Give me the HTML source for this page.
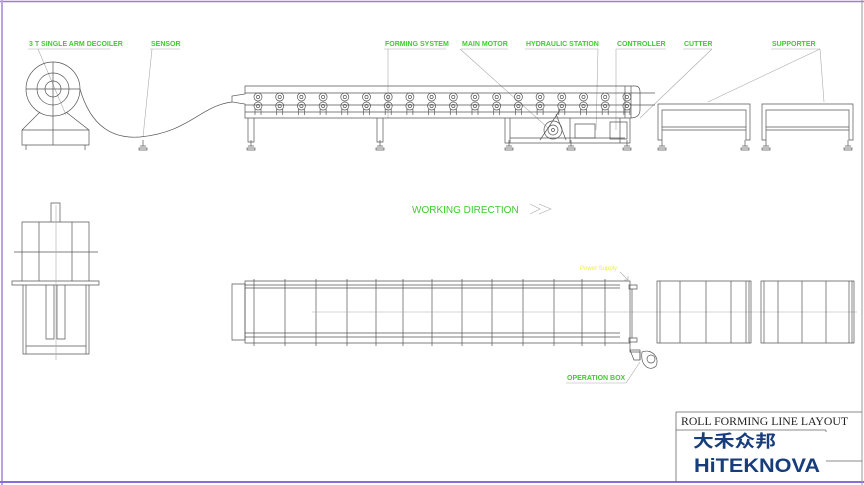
<!DOCTYPE html>
<html><head><meta charset="utf-8"><style>
html,body{margin:0;padding:0;background:#fff;}
svg{display:block;}
.l{stroke:#555;stroke-width:0.7;fill:none;}
.g{stroke:#aaa;stroke-width:0.6;fill:none;}
.t{font-family:"Liberation Sans",sans-serif;font-size:7px;fill:#3ecc2e;font-weight:bold;}
</style></head><body>
<svg width="864" height="485" viewBox="0 0 864 485" xmlns="http://www.w3.org/2000/svg">
<defs>
<g id="r"><circle cx="0" cy="0" r="4" class="l"/><circle cx="0" cy="0" r="1.6" class="l"/><circle cx="0" cy="9" r="4" class="l"/><circle cx="0" cy="9" r="1.6" class="l"/><path class="l" d="M-3,12V18M3,12V18"/></g>
<g id="f"><path class="l" d="M-3,0H3M0,0V-6M-4,2H4V4H-4Z"/></g>
</defs>
<rect x="0" y="0" width="864" height="485" fill="#fff"/>
<line x1="0" y1="1.5" x2="864" y2="1.5" stroke="#9a7be0" stroke-width="1.5"/>
<line x1="2" y1="0" x2="2" y2="485" stroke="#b9a3e3" stroke-width="2"/>
<line x1="0" y1="482" x2="864" y2="482" stroke="#8a6ddc" stroke-width="2"/>
<line x1="862" y1="0" x2="862" y2="485" stroke="#999" stroke-width="1"/>

<text class="t" x="29" y="46">3 T SINGLE ARM DECOILER</text>
<text class="t" x="151" y="46">SENSOR</text>
<text class="t" x="385" y="46">FORMING SYSTEM</text>
<text class="t" x="462" y="46">MAIN MOTOR</text>
<text class="t" x="526" y="46">HYDRAULIC STATION</text>
<text class="t" x="617" y="46">CONTROLLER</text>
<text class="t" x="684" y="46">CUTTER</text>
<text class="t" x="772" y="46">SUPPORTER</text>
<path class="g" d="M28,49H110M150,49H180M384,49H446M461,49H508M525,49H598M616,49H666M683,49H712M771,49H820"/>
<path class="g" d="M38,49L66,115M152,49L143,137M388,49L388,118M460,49L548,128M598,49L596,130M616,49L616,130M712,49L640,118M820,49L708,102M820,49L824,102"/>

<circle cx="53" cy="89" r="27" class="l"/><circle cx="53" cy="89" r="16" class="l"/><circle cx="53" cy="89" r="8" class="l"/>
<path class="l" d="M26,89H80M53,62V145M22,130L40,112M89,130L66,112M22,130H89V145H22Z M26,145V150M85,145V150"/>
<path class="l" d="M80,89C86,110 100,140 140,137C190,132 200,106 232,102"/>
<use href="#f" x="143" y="146"/>

<path class="l" d="M245,86H635Q640,86 640,92V110Q640,118 630,118H245V104L232,102V96L245,94Z"/>
<path class="l" d="M245,93H655M245,105H655M245,112H630M625,86V118M631,86V118"/>
<g>
<use href="#r" x="258" y="97"/><use href="#r" x="279.7" y="97"/><use href="#r" x="301.4" y="97"/><use href="#r" x="323.1" y="97"/><use href="#r" x="344.8" y="97"/><use href="#r" x="366.5" y="97"/><use href="#r" x="388.2" y="97"/><use href="#r" x="409.9" y="97"/><use href="#r" x="431.6" y="97"/><use href="#r" x="453.3" y="97"/><use href="#r" x="475" y="97"/><use href="#r" x="496.7" y="97"/><use href="#r" x="518.4" y="97"/><use href="#r" x="540.1" y="97"/><use href="#r" x="561.8" y="97"/><use href="#r" x="583.5" y="97"/><use href="#r" x="605.2" y="97"/><use href="#r" x="626.9" y="97"/>
</g>
<path class="l" d="M248,118V142H254V118M377,118V142H383V118M505,118V143H630V118M510,118V143M510,138H625M620,118V143M570,118V143"/>
<circle cx="553" cy="130" r="9" class="l"/><circle cx="553" cy="130" r="5" class="l"/><circle cx="553" cy="130" r="1.5" class="l"/>
<path class="l" d="M540,140L560,110M566,140L556,114M575,124H595V138H575ZM610,122H627V139H610Z"/>
<use href="#f" x="251" y="146"/><use href="#f" x="380" y="146"/><use href="#f" x="509" y="146"/><use href="#f" x="571" y="146"/><use href="#f" x="627" y="146"/>

<path class="l" d="M658,104H750V140H746V110H662V140H658ZM662,127H746M662,130H746"/>
<path class="l" d="M762,104H853V140H849V110H766V140H762ZM766,127H849M766,130H849"/>
<use href="#f" x="662" y="146"/><use href="#f" x="745" y="146"/><use href="#f" x="766" y="146"/><use href="#f" x="848" y="146"/>

<text x="412" y="213" style="font-family:'Liberation Sans',sans-serif;font-size:10px;fill:#3ecc2e">WORKING DIRECTION</text>
<path class="g" d="M530,204L540,209L530,214M539,204L551,209L539,214"/>

<path class="l" d="M51,203H60V222H51ZM22,222H89V281H22ZM39,222V281M72,222V281M14,252H98M12,281H99V285H12ZM23,285V354H89V285M26,285V354M86,285V354M26,346H86M46,285V339H54V285M57,285V339H65V285"/>
<path class="g" d="M56,205V360"/>

<path class="l" d="M232,284H245V340H232Z"/>
<path class="l" d="M245,281H630V343H245Z M245,285H620M245,288H620M245,333H620M245,337H620"/>
<path class="l" d="M254,279V346M285,279V346M316,279V346M347,279V346M376,279V346M403,279V346M432,279V346M462,279V346M492,279V346M523,279V346M554,279V346M582,279V346M605,279V346"/>
<path class="g" d="M312,312H857"/>
<path class="l" d="M629,285H637V289H629ZM632,289V338M629,338H637V342H629ZM630,342V352H640V360"/>
<path class="l" d="M630,350H640V360H634ZM642,352C652,348 660,358 656,366C650,372 640,366 642,352Z"/>
<circle cx="651" cy="359" r="4" class="l"/>
<text x="580" y="270" style="font-family:'Liberation Sans',sans-serif;font-size:6px;fill:#eeee44">Power Supply</text>
<path class="g" d="M620,272L628,280M624,280H628V276"/>
<text class="t" x="567" y="380">OPERATION BOX</text>
<path class="g" d="M566,383H626L640,362"/>

<path class="l" d="M657,281H751V343H657ZM660,281V343M680,281V343M706,281V343M731,281V343M746,281V343M749,281V343"/>
<path class="l" d="M761,281H854V343H761ZM764,281V343M778,281V343M802,281V343M826,281V343M849,281V343M852,281V343"/>

<path d="M676,412H862M676,412V482M676,430H826M826,430V432M826,461H862" stroke="#666" stroke-width="0.8" fill="none"/>
<text x="681" y="425" textLength="167" lengthAdjust="spacingAndGlyphs" style="font-family:'Liberation Serif',serif;font-size:11.5px;fill:#222">ROLL FORMING LINE LAYOUT</text>
<text x="693" y="447" textLength="83" lengthAdjust="spacingAndGlyphs" style="font-family:'Liberation Sans','Noto Sans CJK SC',sans-serif;font-size:17px;font-weight:bold;fill:#173d7a">大禾众邦</text>
<text x="694" y="472" textLength="126" lengthAdjust="spacingAndGlyphs" style="font-family:'Liberation Sans',sans-serif;font-size:19px;font-weight:bold;fill:#173d7a">HiTEKNOVA</text>
</svg>
</body></html>
